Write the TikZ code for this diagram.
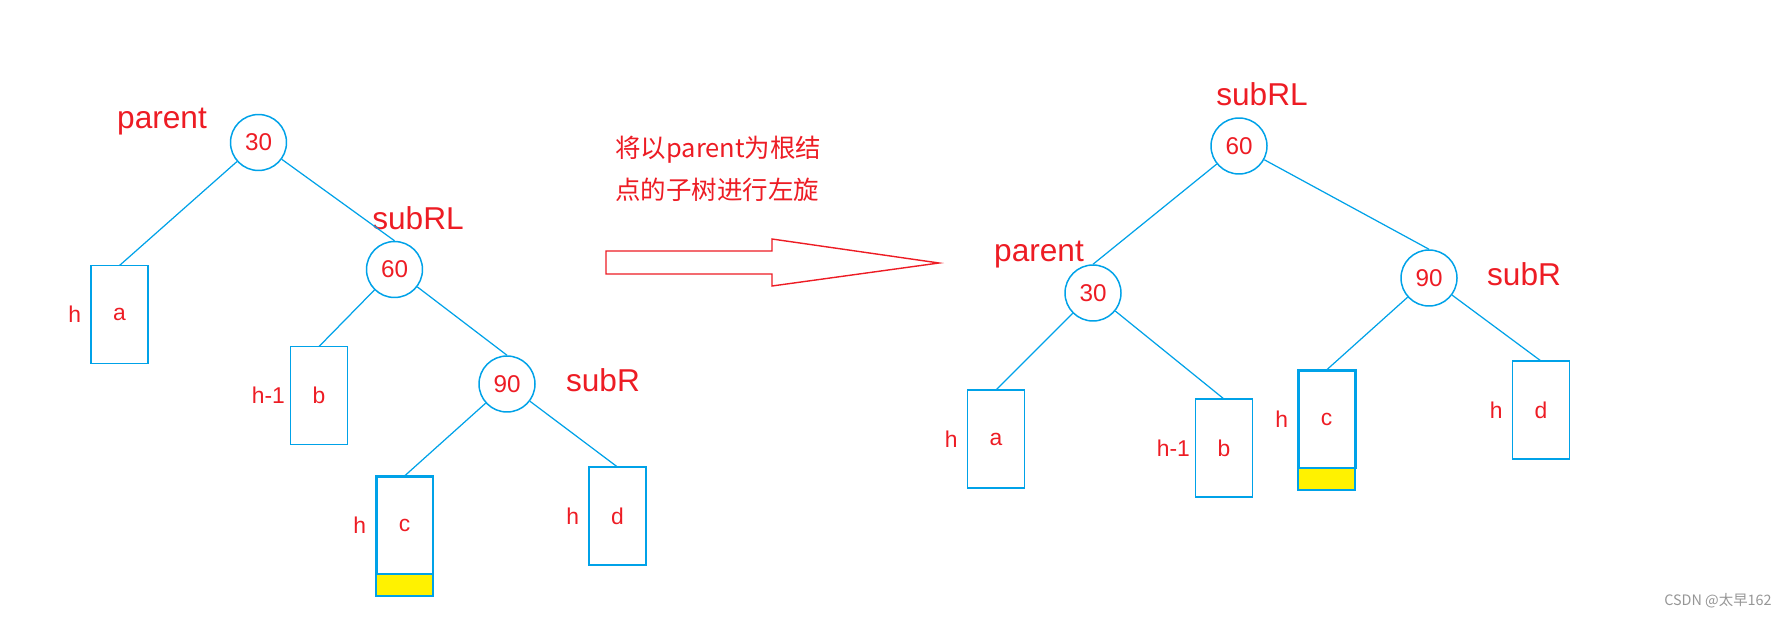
\documentclass[tikz,border=0pt]{standalone}
\definecolor{lineblue}{RGB}{0,162,232}
\definecolor{labred}{RGB}{237,28,36}
\definecolor{growyellow}{RGB}{255,242,0}
\definecolor{markgray}{RGB}{150,150,150}
\usepackage{fontspec}
\setmainfont{Liberation Sans}
\newfontfamily\cjk{Noto Sans CJK SC}
\usepackage{tikz}
\usepackage{xcolor}
\usetikzlibrary{positioning}

\begin{document}
\begin{tikzpicture}[x=0.02cm, y=-0.02cm,
        keynode/.style={circle, draw=lineblue, line width=0.85pt, minimum size=1.12cm,
                    inner sep=0pt, text=labred, font=\fontsize{13.8}{16}\selectfont},
        subtree/.style={rectangle, draw=lineblue, line width=0.75pt,
                    minimum width=1.14cm, minimum height=1.96cm,
                    inner sep=0pt, outer sep=0pt,
                    text=labred, font=\fontsize{13}{15}\selectfont},
        hotsub/.style={subtree, line width=1.7pt},
        growbox/.style={rectangle, draw=lineblue, line width=0.75pt, fill=growyellow,
                     minimum width=1.14cm, minimum height=0.44cm,
                     inner sep=0pt, outer sep=0pt},
        hgt/.style={text=labred, inner sep=0pt, font=\fontsize{13}{15}\selectfont},
        tagtxt/.style={text=labred, font=\fontsize{18}{21}\selectfont},
        notetxt/.style={text=labred, align=left, inner sep=0pt,
                     font=\cjk\fontsize{14.5}{23.8}\selectfont},
        wmark/.style={text=markgray, inner sep=0pt, font=\cjk\fontsize{8.2}{10}\selectfont},
        link/.style={draw=lineblue, line width=0.7pt}
    ]
        \useasboundingbox (0,0) rectangle (1787,618);

        % before: unbalanced at parent
        \node[keynode] (p30)  at (258.5,142.5) {30};
        \node[keynode] (rl60) at (394.5,269.5) {60};
        \node[keynode] (r90)  at (507,384)     {90};

        \node[subtree] (ta) at (119.5,314.5) {a};
        \node[subtree] (tb) at (319,395.5)   {b};
        \node[hotsub]  (tc) at (404.5,525)   {c};
        \node[subtree] (td) at (617.5,516)   {d};
        \node[growbox, below=0pt of tc] (gc) {};

        \node[hgt, left=5.5pt of ta] (ha) {h};
        \node[hgt, left=3pt of tb]   (hb) {h-1};
        \node[hgt, left=5.5pt of tc] (hc) {h};
        \node[hgt, left=5.5pt of td] (hd) {h};

        \node[tagtxt] (lpar) at (162,122) {parent};
        \node[tagtxt] (lrl)  at (418,218) {subRL};
        \node[tagtxt] (lr)   at (603,380) {subR};

        % rotation arrow
        \node[notetxt, anchor=west] (say) at (615,169) {将以parent为根结\\点的子树进行左旋};
        \draw[labred, line width=0.8pt]
            (606,251) -- (772,251) -- (772,239) -- (939,263)
            -- (772,286) -- (772,274) -- (606,274) -- cycle;

        % after: subRL on top
        \node[keynode] (P60) at (1239,146)  {60};
        \node[keynode] (P30) at (1093,293)  {30};
        \node[keynode] (P90) at (1429,278)  {90};

        \node[subtree] (Ta) at (996,439)    {a};
        \node[subtree] (Tb) at (1224,448)   {b};
        \node[hotsub]  (Tc) at (1326.5,419) {c};
        \node[subtree] (Td) at (1541,410)   {d};
        \node[growbox, below=0pt of Tc] (Gc) {};

        \node[hgt, left=5.5pt of Ta] (Ha) {h};
        \node[hgt, left=3pt of Tb]   (Hb) {h-1};
        \node[hgt, left=5.5pt of Tc] (Hc) {h};
        \node[hgt, left=5.5pt of Td] (Hd) {h};

        \node[tagtxt] (Lrl)  at (1262,94)  {subRL};
        \node[tagtxt] (Lpar) at (1039,255) {parent};
        \node[tagtxt] (Lr)   at (1524,274) {subR};

        \foreach \u/\v in {p30/ta,p30/rl60,rl60/tb,rl60/r90,r90/tc,r90/td,
                           P60/P30,P60/P90,P30/Ta,P30/Tb,P90/Tc,P90/Td}
            \draw[link] (\u) -- (\v.north);

        \node[wmark, anchor=east] (csdn) at (1772,601) {CSDN @太早162};
    \end{tikzpicture}
\end{document}
